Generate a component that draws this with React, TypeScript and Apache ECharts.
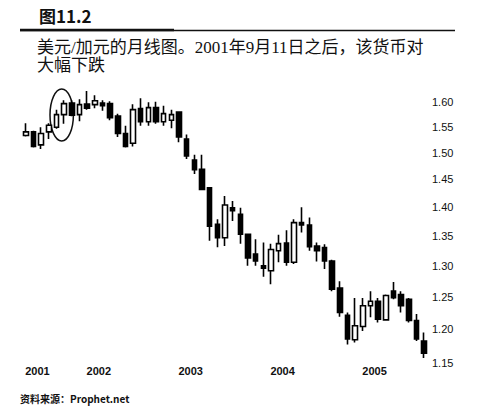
import { useEffect, useRef } from "react";
import * as echarts from "echarts";

const months = [
  "2001-05", "2001-06", "2001-07", "2001-08", "2001-09", "2001-10", "2001-11", "2001-12",
  "2002-01", "2002-02", "2002-03", "2002-04", "2002-05", "2002-06", "2002-07", "2002-08", "2002-09", "2002-10", "2002-11", "2002-12",
  "2003-01", "2003-02", "2003-03", "2003-04", "2003-05", "2003-06", "2003-07", "2003-08", "2003-09", "2003-10", "2003-11", "2003-12",
  "2004-01", "2004-02", "2004-03", "2004-04", "2004-05", "2004-06", "2004-07", "2004-08", "2004-09", "2004-10", "2004-11", "2004-12",
  "2005-01", "2005-02", "2005-03", "2005-04", "2005-05", "2005-06", "2005-07", "2005-08", "2005-09",
];

const openVals = [
  1.533, 1.540, 1.515, 1.540, 1.549, 1.574, 1.597, 1.574, 1.595, 1.594,
  1.597, 1.596, 1.571, 1.537, 1.518, 1.586, 1.560, 1.588, 1.560, 1.563,
  1.579, 1.526, 1.486, 1.469, 1.435, 1.370, 1.347, 1.399, 1.3875, 1.353,
  1.3195, 1.300, 1.292, 1.325, 1.338, 1.306, 1.373, 1.369, 1.333, 1.3305,
  1.308, 1.264, 1.221, 1.184, 1.204, 1.236, 1.243, 1.214, 1.259, 1.2535,
  1.246, 1.213, 1.182,
];
const closeVals = [
  1.540, 1.512, 1.537, 1.553, 1.574, 1.596, 1.573, 1.594, 1.587, 1.602,
  1.592, 1.568, 1.537, 1.512, 1.584, 1.560, 1.588, 1.560, 1.576, 1.574,
  1.530, 1.494, 1.468, 1.432, 1.367, 1.347, 1.404, 1.394, 1.353, 1.313,
  1.308, 1.296, 1.327, 1.337, 1.306, 1.373, 1.369, 1.332, 1.325, 1.308,
  1.262, 1.2255, 1.185, 1.205, 1.236, 1.243, 1.215, 1.252, 1.2485, 1.236,
  1.213, 1.185, 1.164,
];
const lowVals = [
  1.531, 1.510, 1.507, 1.526, 1.546, 1.556, 1.571, 1.561, 1.584, 1.587,
  1.582, 1.563, 1.530, 1.510, 1.512, 1.552, 1.552, 1.556, 1.552, 1.547,
  1.520, 1.488, 1.460, 1.431, 1.342, 1.331, 1.333, 1.376, 1.337, 1.300,
  1.300, 1.282, 1.270, 1.306, 1.300, 1.303, 1.356, 1.325, 1.307, 1.2946,
  1.259, 1.219, 1.177, 1.180, 1.197, 1.218, 1.210, 1.213, 1.246, 1.2255,
  1.210, 1.182, 1.157,
];
const highVals = [
  1.557, 1.542, 1.549, 1.557, 1.584, 1.603, 1.603, 1.605, 1.622, 1.613,
  1.603, 1.601, 1.576, 1.552, 1.595, 1.607, 1.599, 1.600, 1.592, 1.584,
  1.580, 1.535, 1.496, 1.496, 1.435, 1.379, 1.420, 1.411, 1.399, 1.354,
  1.3445, 1.339, 1.337, 1.352, 1.360, 1.379, 1.400, 1.382, 1.339, 1.336,
  1.310, 1.275, 1.2255, 1.248, 1.248, 1.259, 1.248, 1.2535, 1.2736, 1.259,
  1.248, 1.223, 1.195,
];

const yTicks = [1.15, 1.2, 1.25, 1.3, 1.35, 1.4, 1.45, 1.5, 1.55, 1.6];
const xTickMonths = ["2001-06", "2002-02", "2003-02", "2004-02", "2005-02"];

const figureLabel = "图11.2";
const captionLines = ["美元/加元的月线图。2001年9月11日之后，该货币对", "大幅下跌"];
const sourceText = "资料来源：Prophet.net";

export default function App() {
  const ref = useRef<HTMLDivElement>(null);

  useEffect(() => {
    if (!ref.current) return;
    const chart = echarts.init(ref.current, null, { renderer: "svg" });
    const candles = months.map((_, i) => [
      Math.log(openVals[i]),
      Math.log(closeVals[i]),
      Math.log(lowVals[i]),
      Math.log(highVals[i]),
    ]);
    chart.setOption({
      animation: false,
      backgroundColor: "#ffffff",
      grid: { left: 22, right: 71, top: 87, bottom: 32.4, containLabel: false },
      xAxis: {
        type: "category",
        data: months,
        boundaryGap: true,
        axisLine: { show: false },
        axisTick: { show: false },
        splitLine: { show: false },
        axisLabel: {
          interval: (idx: number, val: string) => xTickMonths.includes(val),
          formatter: (v: string) => v.slice(0, 4),
          margin: -11,
          padding: [0, 0, 0, 8],
          fontFamily: "Liberation Sans, Arial, sans-serif",
          fontWeight: "bold",
          fontSize: 11,
          color: "#111",
        },
      },
      yAxis: {
        type: "value",
        position: "right",
        min: Math.log(1.13),
        max: Math.log(1.63),
        axisLine: { show: false },
        axisTick: { show: false },
        splitLine: { show: false },
        axisLabel: {
          customValues: yTicks.map((t) => Math.log(t)),
          formatter: (v: number) => Math.exp(v).toFixed(2),
          margin: 4,
          fontFamily: "Liberation Sans, Arial, sans-serif",
          fontSize: 11,
          color: "#111",
        },
      },
      series: [
        {
          type: "candlestick",
          data: candles,
          barWidth: 5,
          itemStyle: {
            color: "#ffffff",
            color0: "#000000",
            borderColor: "#000000",
            borderColor0: "#000000",
            borderWidth: 1.6,
          },
        },
      ],
      graphic: [
        {
          type: "text",
          left: 39,
          top: 6,
          style: {
            text: figureLabel,
            fontFamily: "Noto Sans CJK SC, sans-serif",
            fontWeight: "bold",
            fontSize: 17,
            lineHeight: 18,
            fill: "#111",
          },
        },
        {
          type: "line",
          shape: { x1: 20, y1: 30.5, x2: 455, y2: 30.5 },
          style: { stroke: "#111", lineWidth: 1.3 },
        },
        {
          type: "line",
          shape: { x1: 20, y1: 30, x2: 174, y2: 30 },
          style: { stroke: "#111", lineWidth: 2.6 },
        },
        {
          type: "text",
          left: 37,
          top: 39,
          style: {
            text: captionLines.join("\n"),
            fontFamily: "Liberation Serif, Noto Sans CJK SC, serif",
            fontSize: 17,
            lineHeight: 17.5,
            fill: "#111",
          },
        },
        {
          type: "ellipse",
          shape: { cx: 61.7, cy: 115, rx: 11.7, ry: 26 },
          style: { fill: "none", stroke: "#111", lineWidth: 1.5 },
        },
        {
          type: "text",
          left: 20,
          top: 393,
          style: {
            text: sourceText,
            fontFamily: "Noto Sans CJK SC, sans-serif",
            fontWeight: "bold",
            fontSize: 10,
            fill: "#111",
          },
        },
      ],
    });
    return () => chart.dispose();
  }, []);

  return (
    <div
      ref={ref}
      style={{ position: "fixed", left: 0, top: 0, width: 499, height: 409 }}
    />
  );
}
